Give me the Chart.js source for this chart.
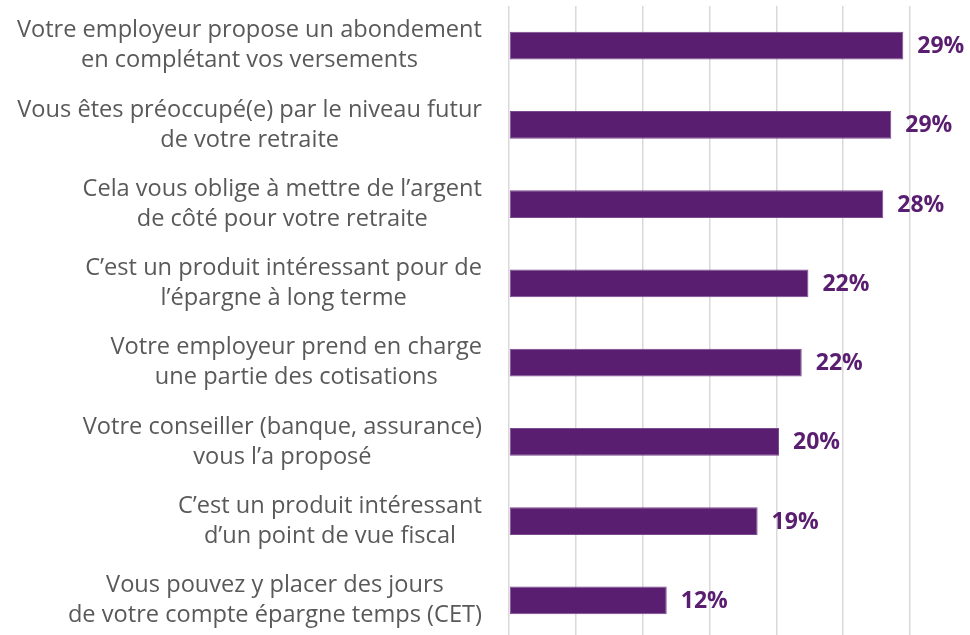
<!DOCTYPE html>
<html lang="fr">
<head>
    <meta charset="UTF-8">
    <title>Raisons</title>
    <script src="https://cdn.jsdelivr.net/npm/chart.js"></script>
    <style>
        html, body { margin: 0; padding: 0; background: #fff; overflow: hidden; }
        #wrap { width: 970px; height: 640px; }
    </style>
</head>
<body>
    <div id="wrap"><canvas id="chart"></canvas></div>

    <script>
        // categories, each one split in two lines as in the picture
        const categories = [
            ['Votre employeur propose un abondement', 'en complétant vos versements'],
            ['Vous êtes préoccupé(e) par le niveau futur', 'de votre retraite'],
            ['Cela vous oblige à mettre de l\u2019argent', 'de côté pour votre retraite'],
            ['C\u2019est un produit intéressant pour de', 'l\u2019épargne à long terme'],
            ['Votre employeur prend en charge', 'une partie des cotisations'],
            ['Votre conseiller (banque, assurance)', 'vous l\u2019a proposé'],
            ['C\u2019est un produit intéressant', 'd\u2019un point de vue fiscal'],
            ['Vous pouvez y placer des jours', 'de votre compte épargne temps (CET)']
        ];
        const values = [29.5, 28.6, 28.0, 22.4, 21.9, 20.2, 18.6, 11.8];
        const valueLabels = ['29%', '29%', '28%', '22%', '22%', '20%', '19%', '12%'];

        const purple = '#5a1e71';
        const textGrey = '#595959';
        const gridGrey = '#d9d9d9';

        // draws the centred two-line category labels and the value labels
        const labelsPlugin = {
            id: 'labels',
            afterDatasetsDraw(chart) {
                const ctx = chart.ctx;
                const yScale = chart.scales.y;
                const meta = chart.getDatasetMeta(0);
                ctx.save();
                ctx.textBaseline = 'middle';

                ctx.font = '23.6px "Open Sans"';
                ctx.fillStyle = textGrey;
                ctx.textAlign = 'center';
                categories.forEach((lines, i) => {
                    const yc = yScale.getPixelForTick(i);
                    const w = Math.max(...lines.map(l => ctx.measureText(l).width));
                    const xc = 482 - w / 2;
                    const lh = 30;
                    lines.forEach((l, k) => {
                        ctx.fillText(l, xc, yc + (k - (lines.length - 1) / 2) * lh);
                    });
                });

                ctx.font = 'bold 23px "Open Sans"';
                ctx.fillStyle = purple;
                ctx.textAlign = 'left';
                meta.data.forEach((bar, i) => {
                    ctx.fillText(valueLabels[i], bar.x + 14, bar.y + 1);
                });
                ctx.restore();
            }
        };

        new Chart(document.getElementById('chart'), {
            type: 'bar',
            data: {
                labels: categories,
                datasets: [{
                    data: values,
                    backgroundColor: purple,
                    borderColor: '#7a4a8f',
                    borderWidth: 1,
                    borderSkipped: false,
                    categoryPercentage: 1,
                    barPercentage: 0.35
                }]
            },
            options: {
                indexAxis: 'y',
                responsive: true,
                maintainAspectRatio: false,
                animation: false,
                layout: { padding: { top: 6, right: 60, bottom: 0, left: 0 } },
                plugins: {
                    legend: { display: false },
                    tooltip: { enabled: false }
                },
                scales: {
                    x: {
                        min: 0,
                        max: 30,
                        ticks: { display: false, stepSize: 5 },
                        grid: { color: gridGrey, lineWidth: 1.5, drawTicks: false },
                        border: { display: false }
                    },
                    y: {
                        ticks: { display: false },
                        grid: { display: false, drawTicks: false },
                        border: { display: false },
                        afterFit(scale) { scale.width = 509; }
                    }
                }
            },
            plugins: [labelsPlugin]
        });
    </script>
</body>
</html>
